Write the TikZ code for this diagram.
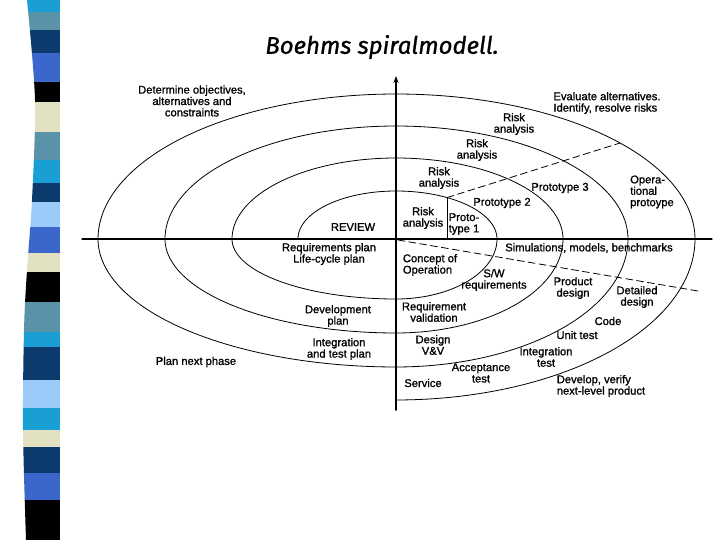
\documentclass[tikz,border=0pt]{standalone}
\usepackage{fontspec}
\setsansfont{Liberation Sans}
\newfontfamily\lblfont[FakeBold=1.2]{Liberation Sans}
\newfontfamily\titlefont[FakeBold=1]{Fira Sans}
\usetikzlibrary{arrows.meta}
\definecolor{barcyan}{HTML}{1A9FD4}
\definecolor{bargrey}{HTML}{5A92AA}
\definecolor{barnavy}{HTML}{0D3A6C}
\definecolor{barroyal}{HTML}{3B66CC}
\definecolor{barsky}{HTML}{9CCBFA}
\definecolor{barbeige}{HTML}{E2E2C2}
\begin{document}
\begin{tikzpicture}[x=1pt,y=-1pt,line join=round,line cap=round,>=Stealth,
	lbl/.style={font=\lblfont\fontsize{11.2}{11.4}\selectfont,align=center,inner sep=0pt},
	lbll/.style={lbl,align=left},
	arm/.style={line width=0.8pt},
	axis/.style={line width=1.2pt}]
	\useasboundingbox (0,0) rectangle (720,540);
	% side stripe
	\begin{scope}
		\clip plot[smooth] coordinates {(27,0) (35,100) (32,200) (27,270) (24,330) (23,430) (26,540)} -- (60,540) -- (60,0) -- cycle;
		\foreach \ya/\yb/\c in {0/12/barcyan,12/30/bargrey,30/53/barnavy,53/82/barroyal,82/102/black,
			102/132/barbeige,132/160/bargrey,160/183/barcyan,183/202/barnavy,202/227/barsky,
			227/253/barroyal,253/272/barbeige,272/302/black,302/332/bargrey,332/347/barcyan,
			347/380/barnavy,380/408/barsky,408/430/barcyan,430/447/barbeige,447/473/barnavy,
			473/500/barroyal,500/540/black}
			\fill[\c] (0,\ya) rectangle (60,\yb);
	\end{scope}
	\node[font=\titlefont\itshape\fontsize{24}{26}\selectfont] (title) at (382,47) {Boehms spiralmodell.};
	% axes
	\coordinate (o) at (396,239);
	\draw[axis] (82,239) -- (712,239);
	\draw[line width=1.6pt,-{Stealth[length=7pt,width=5pt]}] (396,410) -- (396,76);
	% spiral
	\foreach \l/\t/\r/\d/\n in {98/48/101/60/164,164/81/167/94/231,231/113/232/128/298}
		\draw[arm] plot[domain=180:270,samples=60] ({396+\l*cos(\x)},{239+\t*sin(\x)})
			-- plot[domain=270:360,samples=60] ({396+\r*cos(\x)},{239+\t*sin(\x)})
			-- plot[domain=0:90,samples=60] ({396+\r*cos(\x)},{239+\d*sin(\x)})
			-- plot[domain=90:180,samples=60] ({396+\n*cos(\x)},{239+\d*sin(\x)});
	\draw[arm] plot[domain=180:270,samples=60] ({396+298*cos(\x)},{239+145*sin(\x)})
		-- plot[domain=270:360,samples=60] ({396+299*cos(\x)},{239+145*sin(\x)})
		-- plot[domain=0:90,samples=60] ({396+299*cos(\x)},{239+161*sin(\x)});
	% prototype lines
	\coordinate (pa) at (447,197.6);
	\coordinate (pb) at (447,239);
	\coordinate (pc) at (620,143);
	\coordinate (sa) at (398,240);
	\coordinate (sb) at (698,291);
	\draw[arm] (pa) -- (pb);
	\draw[arm,dash pattern=on 7pt off 4pt] (pa) -- (pc);
	\draw[arm,dash pattern=on 7pt off 4pt] (sa) -- (sb);
	% quadrant labels
	\node[lbl] (determine) at (192,101) {Determine objectives,\\alternatives and\\constraints};
	\node[lbll] (evaluate) at (607,103) {Evaluate alternatives.\\Identify, resolve risks};
	\node[lbl] (plannext) at (196,362) {Plan next phase};
	\node[lbll] (develop) at (601,386) {Develop, verify\\next-level product};
	% risk analyses
	\node[lbl] (risk4) at (514,124) {Risk\\analysis};
	\node[lbl] (risk3) at (477,150) {Risk\\analysis};
	\node[lbl] (risk2) at (439,178) {Risk\\analysis};
	\node[lbl] (risk1) at (423,218) {Risk\\analysis};
	% prototypes
	\node[lbll] (proto1) at (464,224) {Proto-\\type 1};
	\node[lbl] (proto2) at (502,203) {Prototype 2};
	\node[lbl] (proto3) at (560,188) {Prototype 3};
	\node[lbll] (operational) at (652,192) {Opera-\\tional\\protoype};
	% planning
	\node[lbl] (review) at (353,227) {REVIEW};
	\node[lbl] (reqplan) at (329,254) {Requirements plan\\Life-cycle plan};
	\node[lbl] (devplan) at (338,316) {Development\\plan};
	\node[lbl] (intplan) at (339,349) {Integration\\and test plan};
	% development
	\node[lbl] (simulations) at (589,248) {Simulations, models, benchmarks};
	\node[lbll] (concept) at (430,265) {Concept of\\Operation};
	\node[lbl] (swreq) at (494,280) {S/W\\requirements};
	\node[lbl] (product) at (573,288) {Product\\design};
	\node[lbl] (detailed) at (637,297) {Detailed\\design};
	\node[lbl] (reqval) at (434,312) {Requirement\\validation};
	\node[lbl] (code) at (608,321) {Code};
	\node[lbl] (unittest) at (577,335) {Unit test};
	\node[lbl] (designvv) at (433,345) {Design\\V\&V};
	\node[lbl] (inttest) at (546,357) {Integration\\test};
	\node[lbl] (acceptance) at (481,373) {Acceptance\\test};
	\node[lbl] (service) at (423,383) {Service};
\end{tikzpicture}
\end{document}
